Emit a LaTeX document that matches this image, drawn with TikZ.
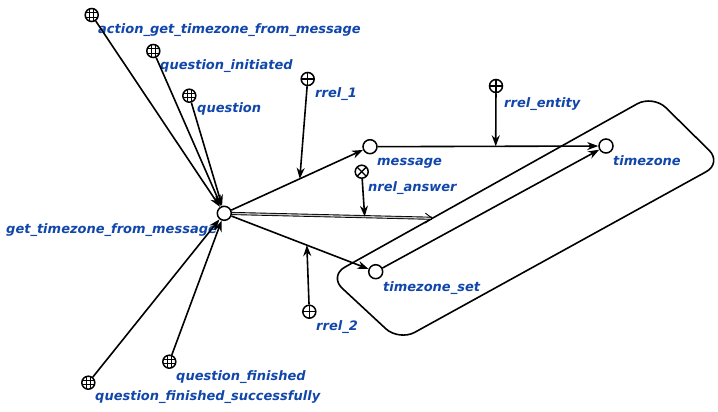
\documentclass[tikz,border=0pt]{standalone}
\usepackage{fontspec}
\setmainfont{DejaVu Sans}
\usetikzlibrary{arrows.meta,calc}
\definecolor{lblblue}{RGB}{17,70,170}
\begin{document}
\begin{tikzpicture}[x=1pt,y=-1pt,
  base/.style={circle,draw,fill=white,line width=1.5pt,minimum size=14pt,inner sep=0pt},
  gnode/.style={base},
  classnode/.style={base,minimum size=13pt,path picture={
     \foreach \d in {-2.2pt,2.2pt}{
       \draw[line width=0.9pt] ([xshift=\d]path picture bounding box.north) -- ([xshift=\d]path picture bounding box.south);
       \draw[line width=0.9pt] ([yshift=\d]path picture bounding box.west) -- ([yshift=\d]path picture bounding box.east);}}},
  rolenode/.style={base,minimum size=13pt,path picture={
       \draw[line width=1.3pt] (path picture bounding box.north) -- (path picture bounding box.south);
       \draw[line width=1.3pt] (path picture bounding box.west) -- (path picture bounding box.east);}},
  nrelnode/.style={base,minimum size=13pt,path picture={
       \draw[line width=1.3pt] (path picture bounding box.north west) -- (path picture bounding box.south east);
       \draw[line width=1.3pt] (path picture bounding box.north east) -- (path picture bounding box.south west);}},
  lbl/.style={anchor=base west,inner sep=0pt,text=lblblue,font=\fontsize{13}{15}\selectfont\bfseries\itshape},
  scarc/.style={line width=1.6pt,-{Stealth[length=11pt,width=8pt,inset=3.5pt]}},
  commonarc/.style={line width=0.9pt,double=gray!45,double distance=1.3pt,-{Straight Barb[length=7pt,width=10pt]}},
  contour/.style={draw,line width=1.6pt,rounded corners=18pt}
]
\useasboundingbox (0,0) rectangle (718,412);

% contour
\draw[contour] (329,276) -- (653,95) -- (722,163) -- (399,341) -- cycle;

% nodes
\node[classnode] (action) at (91.7,15) {};
\node[classnode] (qinit) at (153.3,51) {};
\node[classnode] (question) at (189.3,95.7) {};
\node[rolenode] (rrel1) at (307.7,79) {};
\node[rolenode] (rrelent) at (496,86) {};
\node[gnode] (message) at (370,146.7) {};
\node[nrelnode] (nrelans) at (361.7,171.7) {};
\node[gnode] (main) at (224.3,213.3) {};
\node[gnode] (tz) at (606,146) {};
\node[gnode] (tzset) at (375.7,271.7) {};
\node[rolenode] (rrel2) at (309.3,311.7) {};
\node[classnode] (qfin) at (169.3,361.7) {};
\node[classnode] (qfs) at (88.3,382.7) {};
\coordinate (cend) at (433,218.3);

% labels
\node[lbl] (l-action) at (98,34) {action\_get\_timezone\_from\_message};
\node[lbl] (l-qinit) at (160,70) {question\_initiated};
\node[lbl] (l-question) at (197,113) {question};
\node[lbl] (l-rrel1) at (315,98) {rrel\_1};
\node[lbl] (l-rrelent) at (504,107) {rrel\_entity};
\node[lbl] (l-message) at (377,165) {message};
\node[lbl] (l-nrelans) at (368,191) {nrel\_answer};
\node[lbl] (l-tz) at (613,165) {timezone};
\node[lbl] (l-main) at (6,233) {get\_timezone\_from\_message};
\node[lbl] (l-tzset) at (383,291) {timezone\_set};
\node[lbl] (l-rrel2) at (316,330) {rrel\_2};
\node[lbl] (l-qfin) at (176,380) {question\_finished};
\node[lbl] (l-qfs) at (95,400) {question\_finished\_successfully};

% connectors
\draw[scarc] (action) -- (main);
\draw[scarc] (qinit) -- (main);
\draw[scarc] (question) -- (main);
\draw[scarc] (qfin) -- (main);
\draw[scarc] (qfs) -- (main);

\draw[scarc] (main) -- (message) coordinate[pos=0.52] (m1);
\draw[scarc] (rrel1) -- (m1);

\draw[scarc] (main) -- (tzset) coordinate[pos=0.55] (m2);
\draw[scarc] (rrel2) -- (m2);

\draw[commonarc] (main) -- (cend) coordinate[pos=0.66] (m3);
\draw[scarc] (nrelans) -- (m3);

\draw[scarc] (message) -- (tz) coordinate[pos=0.535] (m4);
\draw[scarc] (rrelent) -- (m4);

\draw[scarc] (tzset) -- (tz);
\end{tikzpicture}
\end{document}
